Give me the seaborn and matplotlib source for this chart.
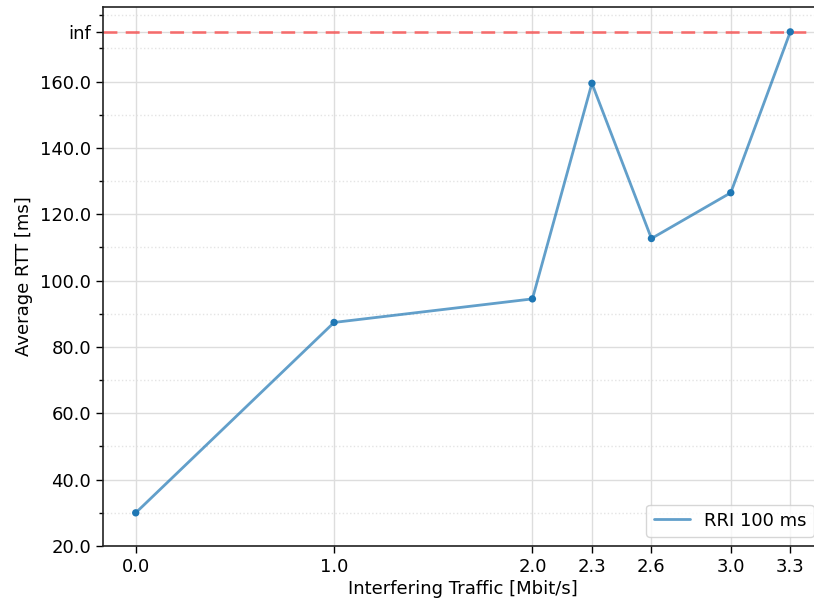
import numpy as np
import pandas as pd
import matplotlib
matplotlib.use("Agg")
import matplotlib.pyplot as plt
import seaborn as sns
from matplotlib.ticker import FixedLocator, MultipleLocator

sns.set_style("ticks")
plt.rcParams["font.family"] = ["DejaVu Sans"]
plt.rcParams["font.sans-serif"] = ["DejaVu Sans"]

# Measured average RTT per interfering traffic rate; the last run never completed
traffic = [0.0, 1.0, 2.0, 2.3, 2.6, 3.0, 3.3]
rtt = [30.0, 87.4, 94.5, 159.5, 112.7, 126.5, np.inf]
series_label = "RRI 100 ms"

# Infinite values are drawn on a dedicated "inf" row above the finite range
INF_ROW = 175.0
y_ticks = [20, 40, 60, 80, 100, 120, 140, 160]

rtt_plot = [INF_ROW if np.isinf(v) else v for v in rtt]
df = pd.DataFrame({"traffic": traffic, "rtt": rtt_plot})

fig = plt.figure(figsize=(8.14, 6.02), dpi=100)
ax = fig.add_axes([103 / 814, 56 / 602, (823 - 103) / 814, (595 - 56) / 602])

ax.axhline(INF_ROW, color="red", alpha=0.5, linestyle=(0, (5, 3)), linewidth=2, zorder=1)

sns.lineplot(data=df, x="traffic", y="rtt", ax=ax, color="tab:blue", alpha=0.7,
             linewidth=2, label=series_label, zorder=3)
sns.scatterplot(data=df, x="traffic", y="rtt", ax=ax, color="tab:blue", s=28,
                edgecolor="none", legend=False, zorder=4)

ax.set_xlim(-0.165, 3.465)
ax.set_ylim(20, 182.5)
ax.set_xticks(traffic)
ax.set_xticklabels([f"{v:.1f}" for v in traffic])
ax.yaxis.set_major_locator(FixedLocator(y_ticks + [INF_ROW]))
ax.set_yticklabels([f"{v:.1f}" for v in y_ticks] + ["inf"])
ax.yaxis.set_minor_locator(MultipleLocator(10))

ax.grid(True, which="major", color="#dddddd", linewidth=1)
ax.grid(True, which="minor", axis="y", color="#e4e4e4", linestyle=":", linewidth=1)
ax.set_axisbelow(True)

ax.tick_params(axis="both", which="major", labelsize=13, length=5, width=1, colors="black")
ax.tick_params(axis="y", which="minor", length=3, width=1, colors="black")
ax.set_xlabel("Interfering Traffic [Mbit/s]", fontsize=13, color="black", labelpad=3)
ax.set_ylabel("Average RTT [ms]", fontsize=13, color="black", labelpad=5)

for side in ax.spines.values():
    side.set_color("#222222")
    side.set_linewidth(1.2)

leg = ax.legend(loc="lower right", fontsize=13, frameon=True)
for t in leg.get_texts():
    t.set_color("black")

fig.savefig("out.png", dpi=100)
